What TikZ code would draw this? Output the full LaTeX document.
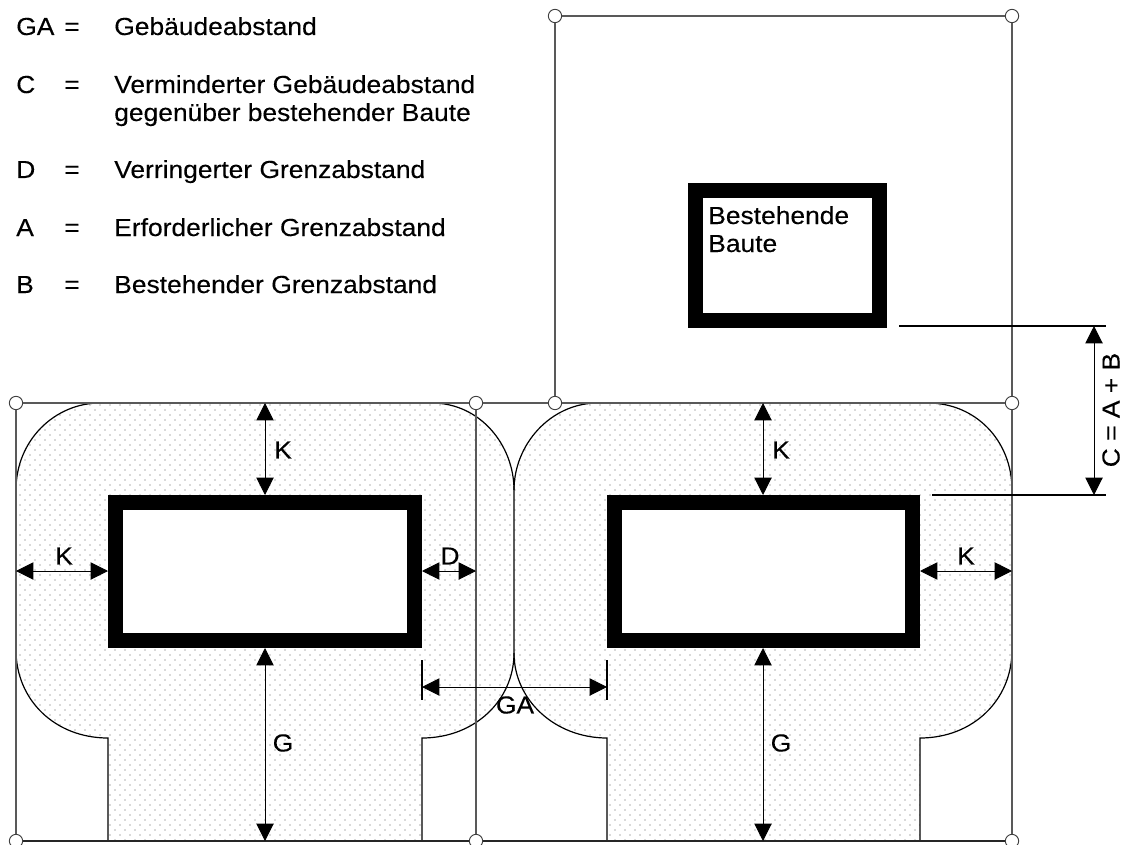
\documentclass[tikz,border=0pt]{standalone}
\usepackage{fontspec}
\setmainfont[FakeStretch=1.07,FakeBold=0.2]{Liberation Sans}
\usetikzlibrary{arrows.meta,patterns}
\pgfdeclarepatternformonly{gdots}{\pgfqpoint{-1pt}{-1pt}}{\pgfqpoint{8.5pt}{8.5pt}}{\pgfqpoint{7.5pt}{7.5pt}}{%
  \pgfpathcircle{\pgfqpoint{0pt}{0pt}}{0.45pt}%
  \pgfpathcircle{\pgfqpoint{3.75pt}{3.75pt}}{0.45pt}%
  \pgfusepath{fill}}
\tikzset{
  thin line/.style={draw=black!65,line width=0.9pt},
  outline/.style={draw=black,line width=0.9pt},
  corner/.style={circle,draw=black!75,fill=white,line width=0.7pt,minimum size=10pt,inner sep=0pt},
  wall/.style={draw=black,line width=11.25pt,miter limit=10},
  dim/.style={draw=black,line width=0.75pt,{Triangle[length=13pt,width=13pt]}-{Triangle[length=13pt,width=13pt]}},
  ext/.style={draw=black,line width=0.8pt},
  lab/.style={font=\fontsize{18.5}{21}\selectfont,inner sep=0pt},
  leg/.style={font=\fontsize{18.5}{21}\selectfont,inner sep=0pt,anchor=base west},
  stipple/.style={pattern=gdots,pattern color=black!65},
}
\begin{document}
\begin{tikzpicture}[x=0.75pt,y=-0.75pt]
\useasboundingbox (0,0) rectangle (1135,845);
% dotted plots
\fill[stipple] (16,490) .. controls (16,440) and (55,403) .. (100,403) -- (432,403)
  .. controls (480,403) and (514,445) .. (514,490) -- (514,653)
  .. controls (514,700) and (475,738) .. (422,738) -- (422,841) -- (108,841) -- (108,738)
  .. controls (55,738) and (16,700) .. (16,650) -- cycle;
\fill[stipple] (514,490) .. controls (514,445) and (550,403) .. (598,403) -- (928,403)
  .. controls (975,403) and (1012,440) .. (1012,490) -- (1012,650)
  .. controls (1012,700) and (973,738) .. (920,738) -- (920,841) -- (607,841) -- (607,738)
  .. controls (555,738) and (514,700) .. (514,653) -- cycle;
% plot outlines
\draw[outline] (16,490) .. controls (16,440) and (55,403) .. (100,403);
\draw[outline] (432,403) .. controls (480,403) and (514,445) .. (514,490) -- (514,653)
  .. controls (514,700) and (475,738) .. (422,738) -- (422,841);
\draw[outline] (108,841) -- (108,738) .. controls (55,738) and (16,700) .. (16,650);
\draw[outline] (514,490) .. controls (514,445) and (550,403) .. (598,403);
\draw[outline] (928,403) .. controls (975,403) and (1012,440) .. (1012,490);
\draw[outline] (1012,650) .. controls (1012,700) and (973,738) .. (920,738) -- (920,841);
\draw[outline] (607,841) -- (607,738) .. controls (555,738) and (514,700) .. (514,653);
% corner nodes
\node[corner] (tl) at (555,16) {};
\node[corner] (tr) at (1012,16) {};
\node[corner] (a1) at (16,403) {};
\node[corner] (a2) at (476,403) {};
\node[corner] (a3) at (555,403) {};
\node[corner] (a4) at (1012,403) {};
\node[corner] (b1) at (16,841) {};
\node[corner] (b2) at (476,841) {};
\node[corner] (b4) at (1012,841) {};
% boundary lines
\draw[thin line] (tl) -- (tr);
\draw[thin line] (tl) -- (a3);
\draw[thin line] (tr) -- (a4);
\draw[thin line] (a4) -- (b4);
\draw[thin line] (a1) -- (a2);
\draw[thin line] (a2) -- (a3);
\draw[thin line] (a3) -- (a4);
\draw[thin line] (a1) -- (b1);
\draw[thin line] (a2) -- (b2);
\draw[draw=black!85,line width=1.1pt] (b1) -- (b2);
\draw[draw=black!85,line width=1.1pt] (b2) -- (b4);
% buildings
\draw[wall,fill=white] (115.5,502.5) rectangle (414.5,640.5);
\draw[wall,fill=white] (614.5,502.5) rectangle (912.5,640.5);
\draw[wall,fill=white] (695.5,191) rectangle (879,320);
% anchors for dimensions
\coordinate (k1t) at (265,403); \coordinate (k1b) at (265,495);
\coordinate (g1t) at (265,648); \coordinate (g1b) at (265,841);
\coordinate (k2t) at (763,403); \coordinate (k2b) at (763,495);
\coordinate (g2t) at (763,648); \coordinate (g2b) at (763,841);
\coordinate (kl) at (16,571);   \coordinate (klr) at (108,571);
\coordinate (dl) at (422,571);  \coordinate (dr) at (476,571);
\coordinate (kr) at (920,571);  \coordinate (krr) at (1012,571);
\coordinate (gl) at (422,687);  \coordinate (gr) at (607,687);
\coordinate (glt) at (422,660); \coordinate (glb) at (422,700);
\coordinate (grt) at (607,660); \coordinate (grb) at (607,700);
\coordinate (ct) at (1094,326); \coordinate (cb) at (1094,495);
\coordinate (e1a) at (899,326); \coordinate (e1b) at (1106,326);
\coordinate (e2a) at (932,495); \coordinate (e2b) at (1106,495);
\draw[dim] (k1t) -- (k1b);
\draw[dim] (g1t) -- (g1b);
\draw[dim] (k2t) -- (k2b);
\draw[dim] (g2t) -- (g2b);
\draw[dim] (kl) -- (klr);
\draw[dim] (dl) -- (dr);
\draw[dim] (kr) -- (krr);
\draw[dim] (gl) -- (gr);
\draw[dim] (ct) -- (cb);
\draw[ext] (glt) -- (glb);
\draw[ext] (grt) -- (grb);
\draw[ext] (e1a) -- (e1b);
\draw[ext] (e2a) -- (e2b);
% dimension labels
\node[lab] (lk1) at (283,450) {K};
\node[lab] (lk2) at (64,556) {K};
\node[lab] (ld) at (450,556) {D};
\node[lab] (lga) at (515,705) {GA};
\node[lab] (lg1) at (283,743) {G};
\node[lab] (lk3) at (781,450) {K};
\node[lab] (lg2) at (781,743) {G};
\node[lab] (lk4) at (966,556) {K};
\node[lab,rotate=90] (lc) at (1111,410) {C = A + B};
% building label
\node[leg] (best) at (708,224) {Bestehende};
\node[leg] (best2) at (708,252) {Baute};
% legend
\node[leg] (g1) at (16,35) {GA};
\node[leg] (g1e) at (64,35) {=};
\node[leg] (g2) at (114,35) {Gebäudeabstand};
\node[leg] (c1) at (16,93) {C};
\node[leg] (c1e) at (64,93) {=};
\node[leg] (c2) at (114,93) {Verminderter Gebäudeabstand};
\node[leg] (c3) at (114,121) {gegenüber bestehender Baute};
\node[leg] (d1) at (16,178) {D};
\node[leg] (d1e) at (64,178) {=};
\node[leg] (d2) at (114,178) {Verringerter Grenzabstand};
\node[leg] (a1t) at (16,236) {A};
\node[leg] (a1e) at (64,236) {=};
\node[leg] (a2t) at (114,236) {Erforderlicher Grenzabstand};
\node[leg] (b1t) at (16,293) {B};
\node[leg] (b1e) at (64,293) {=};
\node[leg] (b2t) at (114,293) {Bestehender Grenzabstand};
\end{tikzpicture}
\end{document}
